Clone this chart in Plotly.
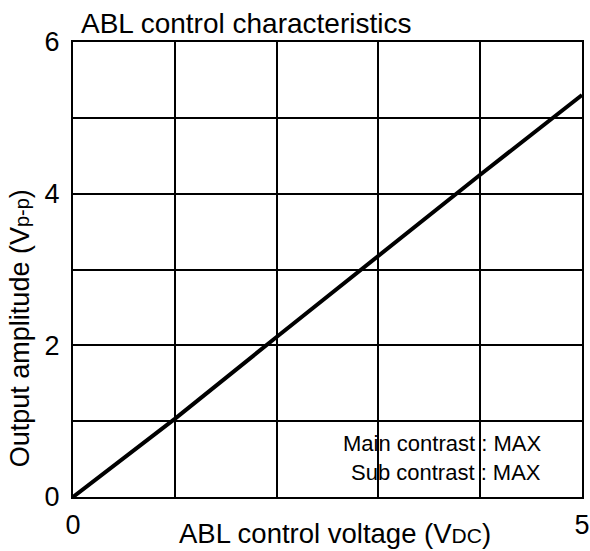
import plotly.graph_objects as go

# Data
voltage = [0, 1, 2, 3, 4, 5]
amplitude = [0, 1.03, 2.11, 3.18, 4.25, 5.30]

x_tickvals = [0, 1, 2, 3, 4, 5]
x_ticktext = ["0", "", "", "", "", "5"]
y_tickvals = [0, 1, 2, 3, 4, 5, 6]
y_ticktext = ["0", "", "2", "", "4", "", "6"]

FONT = "Liberation Sans, Arial, sans-serif"

fig = go.Figure()
fig.add_trace(go.Scatter(x=voltage, y=amplitude, mode="lines",
                         line=dict(color="black", width=4), showlegend=False,
                         hoverinfo="skip"))

fig.update_layout(
    width=590, height=551,
    margin=dict(l=73, r=8, t=42, b=54, autoexpand=False),
    paper_bgcolor="white", plot_bgcolor="white",
    font=dict(family=FONT, size=27, color="black"),
    xaxis=dict(range=[0, 5], tickvals=x_tickvals, ticktext=x_ticktext,
               showgrid=True, gridcolor="black", gridwidth=2,
               showline=True, linecolor="black", linewidth=2, mirror=True,
               zeroline=False, ticks="", ticklabelstandoff=3, automargin=False,
               tickfont=dict(size=27)),
    yaxis=dict(range=[0, 6], tickvals=y_tickvals, ticktext=y_ticktext,
               showgrid=True, gridcolor="black", gridwidth=2,
               showline=True, linecolor="black", linewidth=2, mirror=True,
               zeroline=False, ticks="", ticklabelstandoff=6, automargin=False,
               tickfont=dict(size=27)),
)

# White box hiding grid lines behind the note
fig.add_shape(type="rect", xref="x", yref="y", x0=2.5, x1=4.98, y0=0.12, y1=0.93,
              fillcolor="white", line=dict(width=0), layer="below")

fig.add_annotation(text="ABL control characteristics", xref="paper", yref="paper",
                   x=0.012, y=1.04, xanchor="left", yanchor="middle",
                   showarrow=False, font=dict(size=28))
fig.add_annotation(text="Main contrast : MAX", xref="paper", yref="paper",
                   x=0.923, y=0.117, xanchor="right", yanchor="middle",
                   showarrow=False, font=dict(size=22))
fig.add_annotation(text="Sub contrast : MAX", xref="paper", yref="paper",
                   x=0.923, y=0.053, xanchor="right", yanchor="middle",
                   showarrow=False, font=dict(size=22))
fig.add_annotation(text="ABL control voltage (V<span style='font-size:21px'>DC</span>)",
                   xref="paper", yref="paper", x=0.515, y=-0.081,
                   xanchor="center", yanchor="middle", showarrow=False,
                   borderpad=0, font=dict(size=27.5))
fig.add_annotation(text="Output amplitude (V<span style='font-size:20px'>p-p</span>)",
                   xref="paper", yref="paper", x=-0.105, y=0.37,
                   xanchor="center", yanchor="middle", textangle=-90,
                   showarrow=False, font=dict(size=27))

fig.write_html("out.html", config={"displayModeBar": False},
               post_script="document.body.style.margin='0';"
                           "document.body.style.overflow='hidden';")
